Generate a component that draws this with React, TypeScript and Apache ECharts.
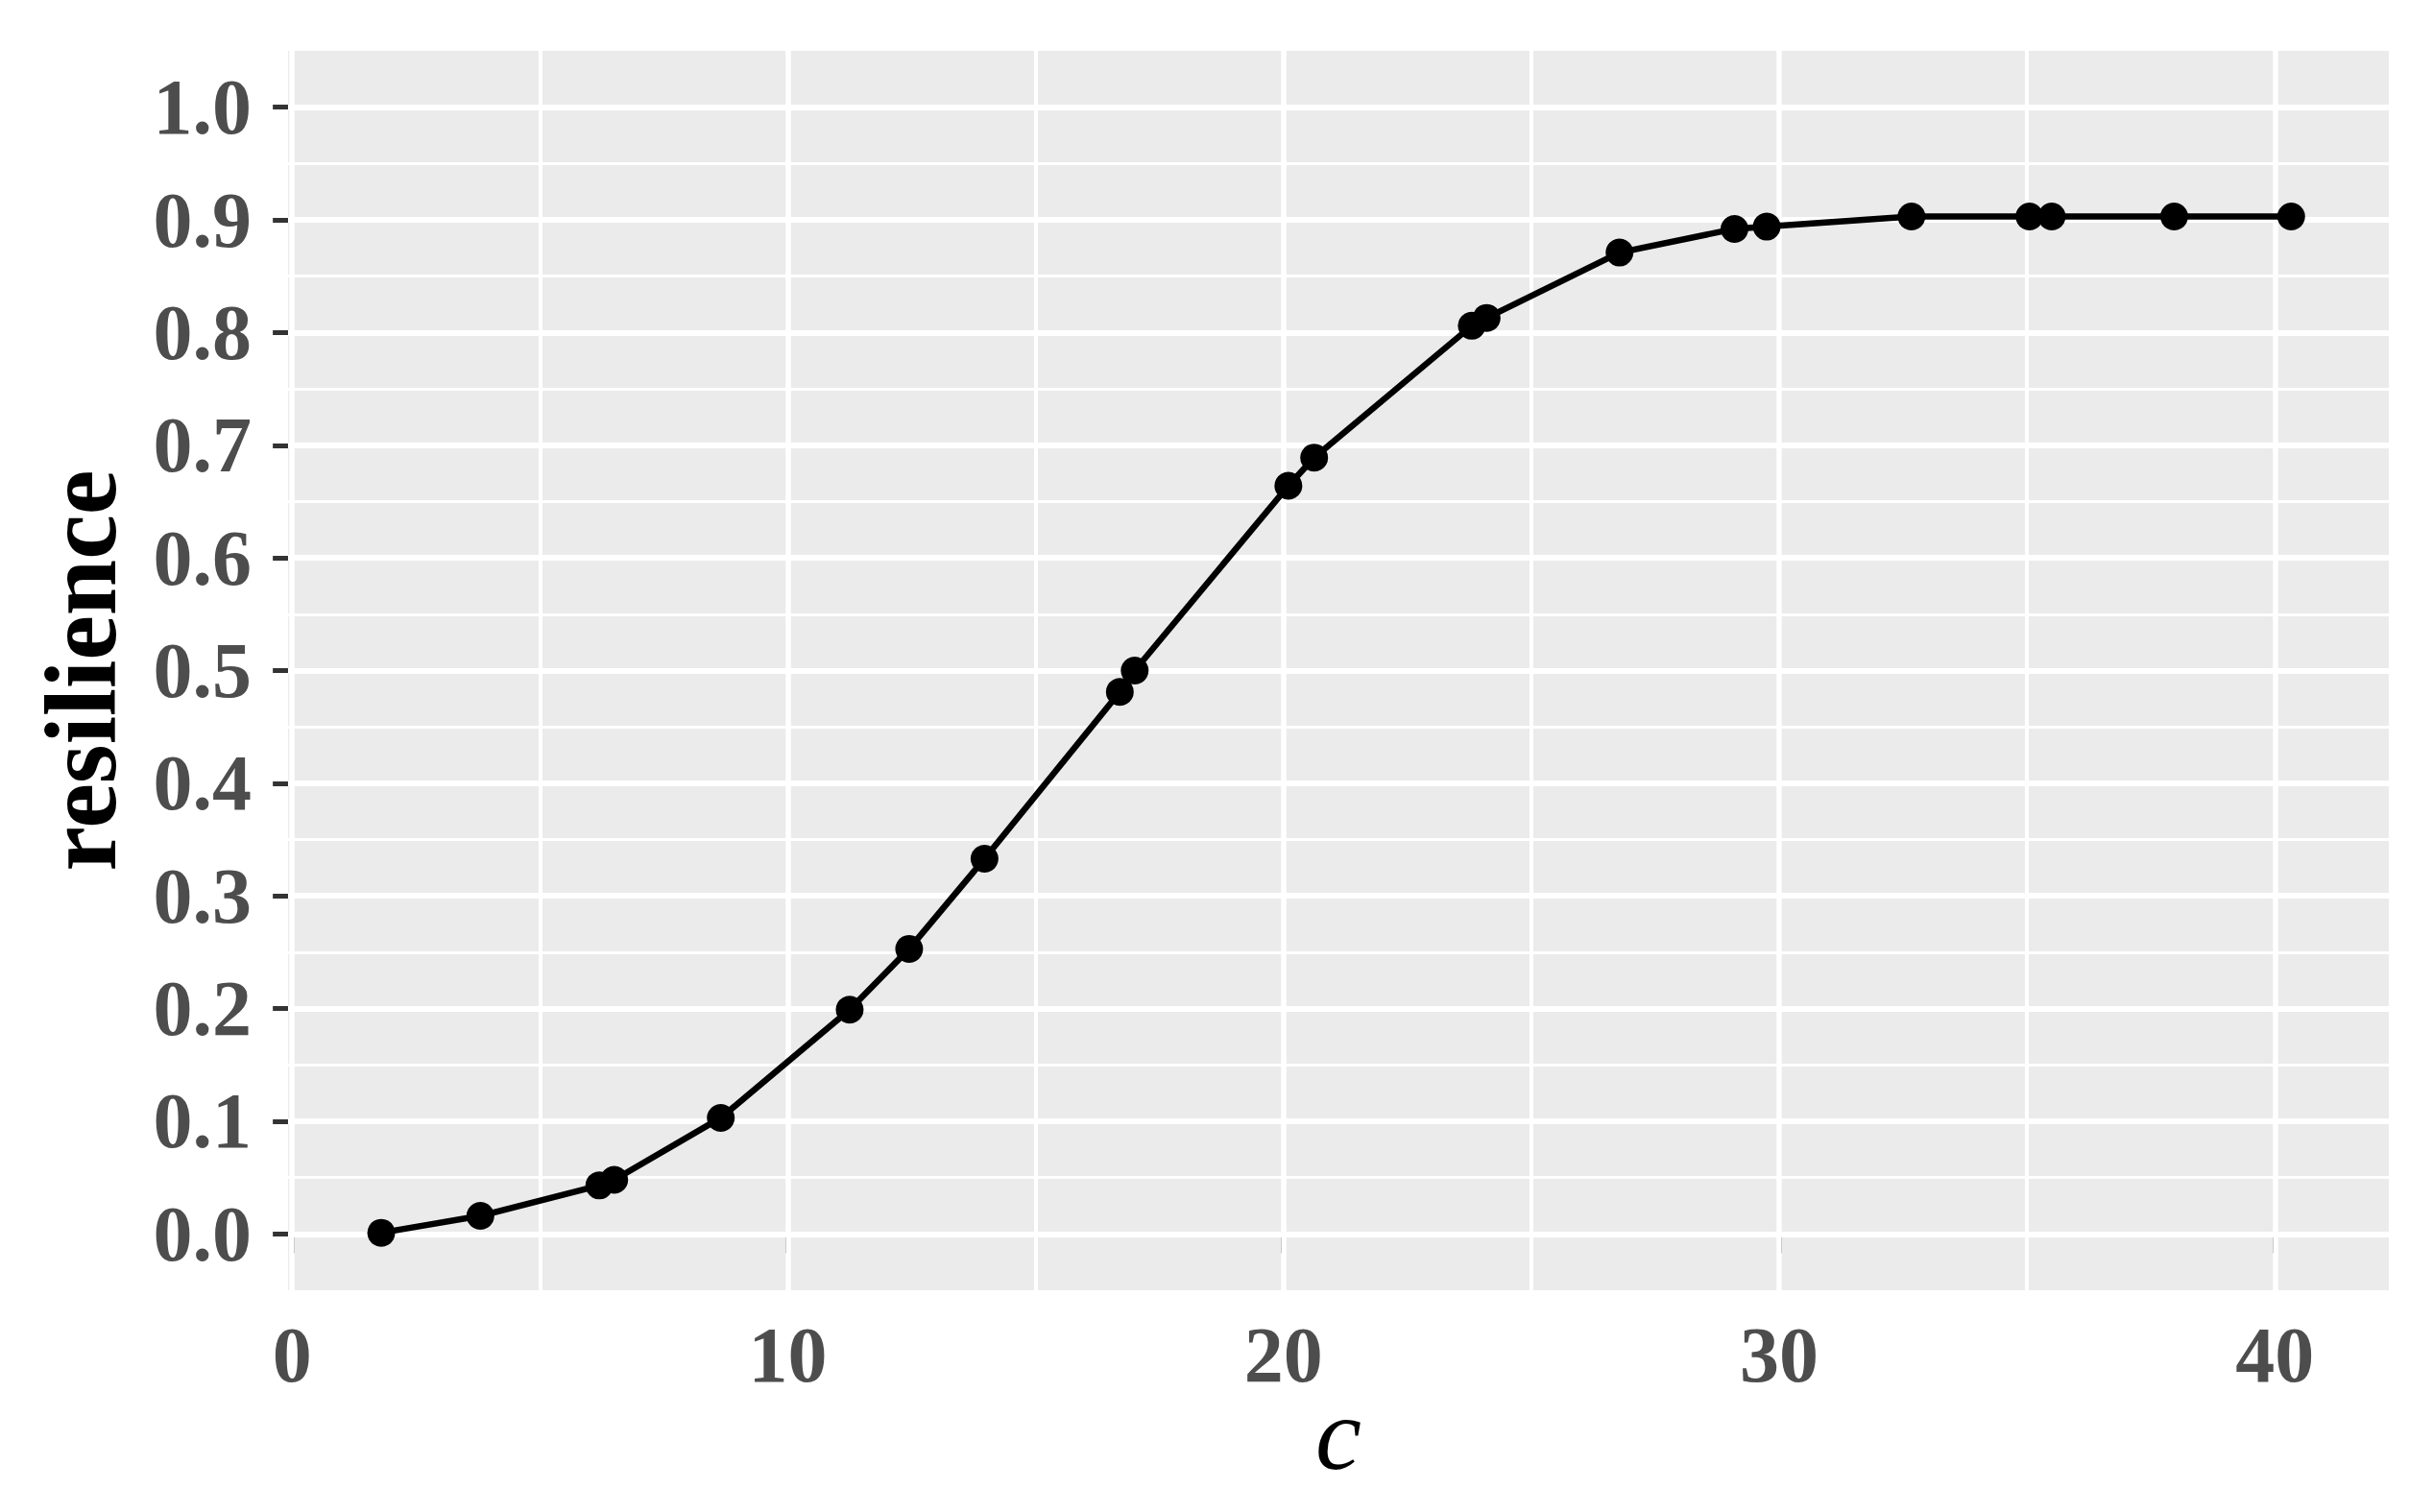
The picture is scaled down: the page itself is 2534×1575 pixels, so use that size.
import React, { useEffect, useRef } from "react";
import * as echarts from "echarts";

// ---- data ----
const C_VALUES = [1.8, 3.8, 6.2, 6.5, 8.65, 11.25, 12.45, 13.97, 16.7, 17.0, 20.1, 20.62, 23.8, 24.1, 26.78, 29.1, 29.75, 32.67, 35.05, 35.5, 37.97, 40.33];
const RESILIENCE = [0.001, 0.016, 0.043, 0.048, 0.103, 0.199, 0.253, 0.333, 0.481, 0.5, 0.664, 0.689, 0.806, 0.813, 0.871, 0.892, 0.894, 0.903, 0.903, 0.903, 0.903, 0.903];

// ---- axis ticks / grid lines ----
const X_TICKS = [0, 10, 20, 30, 40];
const X_MINOR = [5, 15, 25, 35];
const Y_TICKS = [0, 0.1, 0.2, 0.3, 0.4, 0.5, 0.6, 0.7, 0.8, 0.9, 1.0];
const Y_MINOR = [0.05, 0.15, 0.25, 0.35, 0.45, 0.55, 0.65, 0.75, 0.85, 0.95];

const X_LABEL = "c";
const Y_LABEL = "resilience";

const FONT = "'Liberation Serif', 'Times New Roman', serif";

export default function App() {
  const ref = useRef<HTMLDivElement>(null);

  useEffect(() => {
    if (!ref.current) return;
    const chart = echarts.init(ref.current, null, { renderer: "svg" });

    const points = C_VALUES.map((c, i) => [c, RESILIENCE[i]]);

    const gridLines = [
      ...X_TICKS.map((v) => ({ xAxis: v, lineStyle: { width: 5.5 } })),
      ...X_MINOR.map((v) => ({ xAxis: v, lineStyle: { width: 4 } })),
      ...Y_TICKS.map((v) => ({ yAxis: v, lineStyle: { width: 6 } })),
      ...Y_MINOR.map((v) => ({ yAxis: v, lineStyle: { width: 3 } })),
    ];

    chart.setOption({
      animation: false,
      backgroundColor: "#FFFFFF",
      grid: {
        left: 300,
        right: 46,
        top: 53,
        bottom: 231,
        show: true,
        backgroundColor: "#EBEBEB",
        borderWidth: 0,
        containLabel: false,
      },
      xAxis: {
        type: "value",
        min: -0.08,
        max: 42.3,
        name: X_LABEL,
        nameLocation: "middle",
        nameGap: 95,
        nameMoveOverlap: false,
        nameTextStyle: {
          fontFamily: FONT,
          fontStyle: "italic",
          fontSize: 108,
          color: "#000000",
        },
        axisLine: { show: false },
        axisTick: {
          show: true,
          customValues: X_TICKS,
          length: 20,
          lineStyle: { color: "#333333", width: 5 },
        },
        axisLabel: {
          customValues: X_TICKS,
          margin: 26,
          fontFamily: FONT,
          fontWeight: "bold",
          fontSize: 82,
          color: "#4D4D4D",
          formatter: (v: number) => String(v),
        },
        splitLine: { show: false },
      },
      yAxis: {
        type: "value",
        min: -0.05,
        max: 1.05,
        name: Y_LABEL,
        nameLocation: "middle",
        nameGap: 163,
        nameMoveOverlap: false,
        nameRotate: 90,
        nameTextStyle: {
          fontFamily: FONT,
          fontWeight: "bold",
          fontSize: 105,
          color: "#000000",
        },
        axisLine: { show: false },
        axisTick: {
          show: true,
          customValues: Y_TICKS,
          length: 20,
          lineStyle: { color: "#333333", width: 5 },
        },
        axisLabel: {
          customValues: Y_TICKS,
          margin: 38,
          fontFamily: FONT,
          fontWeight: "bold",
          fontSize: 82,
          color: "#4D4D4D",
          formatter: (v: number) => v.toFixed(1),
        },
        splitLine: { show: false },
      },
      series: [
        {
          name: "grid",
          type: "line",
          data: [],
          silent: true,
          z: 1,
          markLine: {
            silent: true,
            z: 1,
            symbol: ["none", "none"],
            label: { show: false },
            emphasis: { disabled: true },
            animation: false,
            lineStyle: { color: "#FFFFFF", type: "solid" },
            data: gridLines,
          },
        },
        {
          name: "resilience",
          type: "line",
          data: points,
          z: 5,
          symbol: "circle",
          symbolSize: 29,
          showSymbol: true,
          lineStyle: { color: "#000000", width: 6.5 },
          itemStyle: { color: "#000000" },
        },
      ],
    });

    return () => chart.dispose();
  }, []);

  return (
    <div
      ref={ref}
      style={{ position: "fixed", left: 0, top: 0, width: 2534, height: 1575 }}
    />
  );
}
